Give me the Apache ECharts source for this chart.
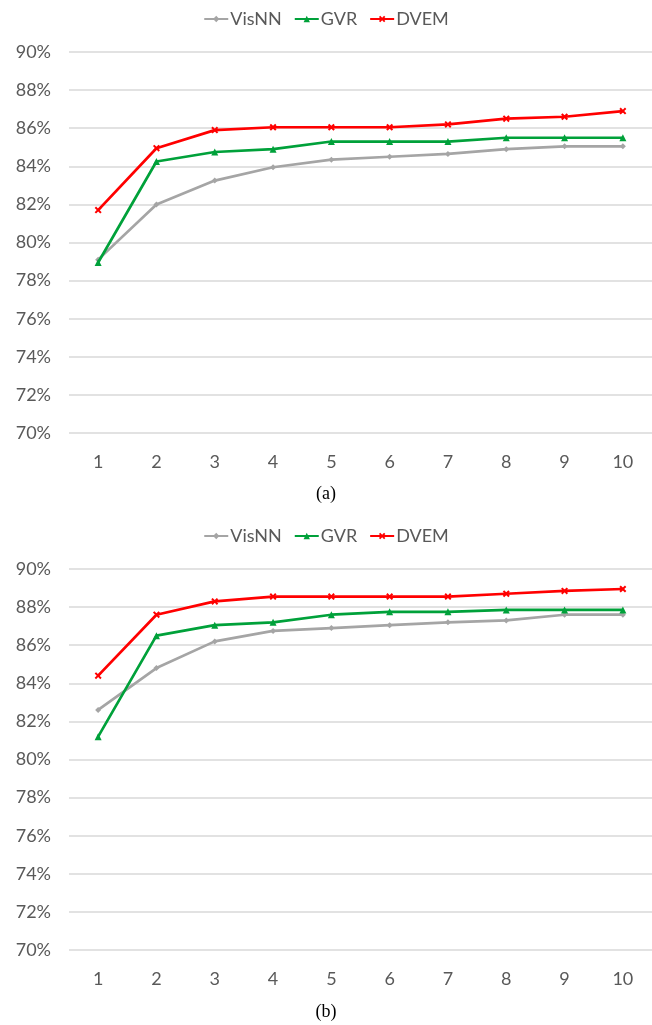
<!DOCTYPE html>
<html><head><meta charset="utf-8">
<style>html,body{margin:0;padding:0;background:#fff;}#c{width:652px;height:1025px;}</style>
<script src="https://cdn.jsdelivr.net/npm/echarts@6/dist/echarts.min.js"></script>
</head><body><div id="c"></div>
<script>
const categories = ['1','2','3','4','5','6','7','8','9','10'];
const seriesNames = ['VisNN','GVR','DVEM'];
// Panel (a)
const visnnA = [79.1, 82.0, 83.25, 83.95, 84.35, 84.5, 84.65, 84.9, 85.05, 85.05];
const gvrA   = [78.95, 84.25, 84.75, 84.9, 85.3, 85.3, 85.3, 85.5, 85.5, 85.5];
const dvemA  = [81.7, 84.95, 85.9, 86.05, 86.05, 86.05, 86.2, 86.5, 86.6, 86.9];
// Panel (b)
const visnnB = [82.6, 84.8, 86.2, 86.75, 86.9, 87.05, 87.2, 87.3, 87.6, 87.6];
const gvrB   = [81.2, 86.5, 87.05, 87.2, 87.6, 87.75, 87.75, 87.85, 87.85, 87.85];
const dvemB  = [84.4, 87.6, 88.3, 88.55, 88.55, 88.55, 88.55, 88.7, 88.85, 88.95];
const captions = ['(a)', '(b)'];

const colors = {VisNN:'#A5A5A5', GVR:'#00A13A', DVEM:'#FF0000'};
const xMark = 'path://M2,0L5,3L8,0L10,2L7,5L10,8L8,10L5,7L2,10L0,8L3,5L0,2Z';
const symbols = {VisNN:'diamond', GVR:'triangle', DVEM:xMark};
const symSize = {VisNN:6, GVR:7, DVEM:7};

const chart = echarts.init(document.getElementById('c'));
const tops = [52, 569];
const grids = tops.map(t => ({left:69, right:-9, top:t, height:381}));
const xAxes = grids.map((g,i) => ({
  type:'category', gridIndex:i, data:categories, boundaryGap:true,
  axisLine:{show:false}, axisTick:{show:false},
  axisLabel:{color:'#595959', fontSize:18, fontFamily:'Lato', margin:20}
}));
const yAxes = grids.map((g,i) => ({
  type:'value', gridIndex:i, min:70, max:90, interval:2,
  axisLine:{show:false}, axisTick:{show:false},
  axisLabel:{color:'#595959', fontSize:18, fontFamily:'Lato', margin:18, formatter: v => v + '%'},
  splitLine:{lineStyle:{color:'#D9D9D9', width:1.5}}
}));
const dataSets = [[visnnA, gvrA, dvemA],[visnnB, gvrB, dvemB]];
const series = [];
dataSets.forEach((set, gi) => {
  set.forEach((arr, si) => {
    const n = seriesNames[si];
    series.push({
      name:n, type:'line', xAxisIndex:gi, yAxisIndex:gi, data:arr,
      color:colors[n], symbol:symbols[n], symbolSize:symSize[n], showSymbol:true,
      lineStyle:{width:2.7, color:colors[n]}, itemStyle:{color:colors[n]},
      animation:false, z: 2+si
    });
  });
});
const legends = [15, 532].map(t => ({
  top:t-10, left:'center', data:seriesNames, itemWidth:24, itemHeight:8, itemGap:12,
  textStyle:{color:'#595959', fontSize:18, fontFamily:'Lato', padding:[0,0,0,-3]},
  selectedMode:false
}));
const titles = [490, 1008].map((t,i) => ({
  text:captions[i], left:'center', top:t-10,
  textStyle:{color:'#000', fontSize:18, fontWeight:'normal', fontFamily:'Liberation Serif'}
}));
chart.setOption({
  animation:false, backgroundColor:'#fff',
  title:titles, legend:legends, grid:grids, xAxis:xAxes, yAxis:yAxes, series:series
});
</script></body></html>
